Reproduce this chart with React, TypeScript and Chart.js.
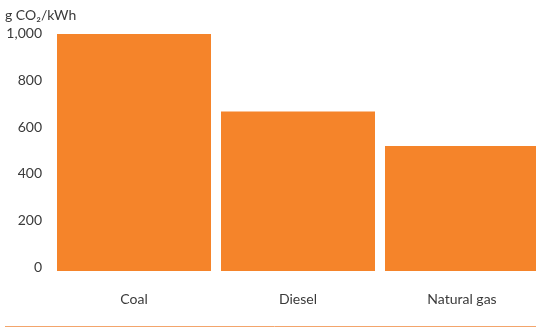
import React, { useEffect, useRef } from "react";
import { Chart, registerables } from "chart.js";

Chart.register(...registerables);

const categories: string[] = ["Coal", "Diesel", "Natural gas"];
const emissions: number[] = [1016, 684, 536];
const yTicks: number[] = [0, 200, 400, 600, 800, 1000];
const unitLabel = "g CO₂/kWh";

const BAR_COLOR = "#F5842A";
const TEXT_COLOR = "#3a3a3a";
const FONT = "Lato, 'Open Sans', sans-serif";

// Unit caption above the axis and the thin rule under the chart.
const decorations = {
  id: "decorations",
  afterDraw(chart: Chart) {
    const { ctx } = chart;
    ctx.save();
    ctx.fillStyle = TEXT_COLOR;
    ctx.font = `14px ${FONT}`;
    ctx.textAlign = "left";
    ctx.textBaseline = "middle";
    ctx.fillText(unitLabel, 5, 15);
    ctx.strokeStyle = "#F3A56C";
    ctx.lineWidth = 1;
    ctx.beginPath();
    ctx.moveTo(5, 326.5);
    ctx.lineTo(chart.width, 326.5);
    ctx.stroke();
    ctx.restore();
  },
};

export default function App() {
  const canvasRef = useRef<HTMLCanvasElement | null>(null);

  useEffect(() => {
    document.body.style.margin = "0";
    if (!canvasRef.current) return;
    const chart = new Chart(canvasRef.current, {
      type: "bar",
      data: {
        labels: categories,
        datasets: [
          {
            data: emissions,
            backgroundColor: BAR_COLOR,
            borderWidth: 0,
            barPercentage: 1,
            categoryPercentage: 154 / 164,
          },
        ],
      },
      options: {
        animation: false,
        responsive: true,
        maintainAspectRatio: false,
        layout: { padding: { top: 33, left: 0, right: 0, bottom: 0 } },
        plugins: {
          legend: { display: false },
          tooltip: { enabled: false },
        },
        scales: {
          x: {
            grid: { display: false, drawTicks: false },
            border: { display: false },
            ticks: {
              color: TEXT_COLOR,
              font: { family: FONT, size: 14 },
              padding: 20,
              maxRotation: 0,
            },
            afterFit(scale: any) {
              scale.height = 57;
            },
          },
          y: {
            min: 0,
            max: 1020,
            grid: { display: false, drawTicks: false },
            border: { display: false },
            afterBuildTicks(scale: any) {
              scale.ticks = yTicks.map((v) => ({ value: v }));
            },
            ticks: {
              color: TEXT_COLOR,
              font: { family: FONT, size: 14 },
              padding: 10,
              labelOffset: -4,
              callback: (v: any) => Number(v).toLocaleString("en-US"),
            },
            afterFit(scale: any) {
              scale.width = 52;
            },
          },
        },
      },
      plugins: [decorations],
    });
    return () => chart.destroy();
  }, []);

  return (
    <div style={{ width: 536, height: 328, overflow: "hidden", position: "relative" }}>
      <div style={{ width: 544, height: 328, position: "relative" }}>
        <canvas ref={canvasRef} />
      </div>
    </div>
  );
}
